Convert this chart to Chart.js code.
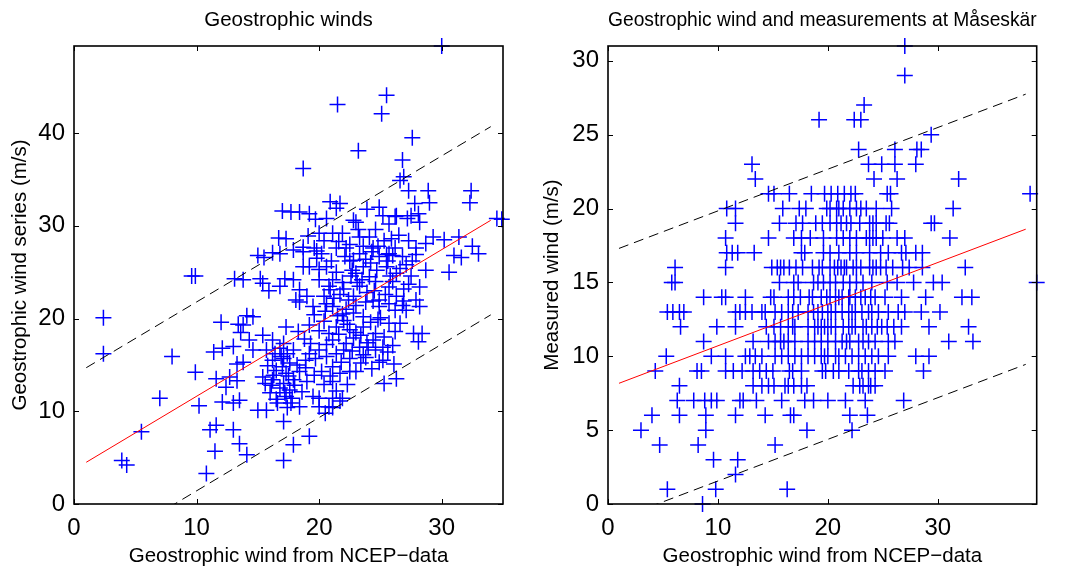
<!DOCTYPE html>
<html><head><meta charset="utf-8">
<script src="https://cdn.jsdelivr.net/npm/chart.js@4/dist/chart.umd.min.js"></script>
<style>
html,body{margin:0;padding:0;background:#fff;width:1075px;height:569px;overflow:hidden}
canvas{position:absolute;top:0}
#c1{left:0}
#c2{left:537px}
</style></head><body>
<canvas id="c1" width="537" height="569"></canvas>
<canvas id="c2" width="538" height="569"></canvas>
<script>
const FONT = "'Liberation Sans', Arial, Helvetica, sans-serif";

// ---------- Left panel: Geostrophic winds ----------
const leftTitle = 'Geostrophic winds';
const leftXLabel = 'Geostrophic wind from NCEP\u2212data';
const leftYLabel = 'Geostrophic wind series (m/s)';
const leftXTicks = [0, 10, 20, 30];
const leftYTicks = [0, 10, 20, 30, 40];
const leftX = [
30.0,25.5,21.5,25.1,27.6,23.2,18.7,26.8,26.6,26.9,27.3,28.9,32.4,32.3,29.0,27.8,20.9,21.4,17.0,18.4,
19.7,23.9,25.2,26.2,27.2,28.1,22.8,34.9,34.5,20.0,21.9,23.3,16.7,29.3,30.2,31.4,32.5,33.0,31.6,31.0,
30.6,27.9,17.9,18.7,16.2,15.0,19.6,19.8,18.7,21.4,22.1,22.8,25.5,26.0,20.0,13.1,9.6,9.9,15.2,17.2,
2.4,2.4,8.0,7.0,9.9,10.2,5.5,3.9,4.3,12.0,13.4,14.1,11.4,12.1,13.3,13.0,13.6,14.3,11.6,12.7,
13.3,12.4,12.1,13.0,11.1,11.6,13.0,13.5,11.5,14.1,10.8,15.0,17.1,17.1,17.9,19.2,17.7,20.0,20.5,21.1,
19.5,25.3,25.2,27.7,28.1,26.2,26.8,22.5,
21.7,24.9,26.3,27.5,28.2,23.0,25.7,21.1,24.1,25.3,26.5,27.3,28.7,22.2,23.3,24.4,24.9,25.7,26.8,27.9,
22.5,23.6,25.5,27.1,21.4,23.0,24.1,26.3,28.7,21.1,21.9,23.3,24.6,25.7,27.3,21.7,22.8,23.9,24.9,26.3,
27.9,20.9,
21.1,21.9,23.0,23.6,24.9,25.7,27.1,28.2,21.4,22.5,23.6,24.6,25.7,26.6,21.1,22.2,23.3,24.4,25.2,26.0,
21.4,22.5,23.6,24.6,24.9,26.1,28.4,21.1,21.7,23.0,26.3,21.1,21.9,21.1,21.7,
18.4,19.5,20.6,14.6,13.8,17.3,18.3,19.2,20.0,20.8,15.4,16.2,17.1,14.6,15.7,16.8,17.9,19.2,20.0,20.6,
16.2,17.1,17.6,18.9,13.8,16.5,17.3,18.4,15.4,16.2,17.1,17.9,16.8,17.6,17.3,13.5,18.4,15.7,20.8,20.0,
19.7,
17.7,19.2,20.6,17.3,15.5,16.8,18.7,19.8,20.4,19.2,20.6,13.8,15.4,16.8,17.9,18.4,19.0,20.0,20.8,15.9,
18.1,20.4,
16.0,16.5,17.0,16.3,17.5,18.0,15.8,16.9,18.2,17.4,22.0,22.8,23.4,24.2,23.8,22.4,24.5,22.6,23.8,24.7,
22.2,23.1,25.0,24.0,22.8,21.6,20.4,19.6,22.0,23.4,25.4,26.0,26.9,24.3,25.9,20.2,19.0,18.8,20.6,21.5,
20.5,21.2,22.0,22.7,23.5,24.2,24.8,25.6,26.2,23.2,22.3,23.0,23.9,24.8,25.3,26.2,26.9,27.5,25.8,24.4,
21.8,22.7,23.8,24.3,25.6,20.9,22.3,21.4,20.4,19.6,16.4,17.2,16.1,17.8,18.6,15.6,16.6,17.4,18.9,19.3,
21.0,20.2,19.1,22.5,23.6,21.6,24.6,26.6,27.6,28.2
];
const leftY = [
49.4,44.1,43.1,42.1,39.5,38.1,36.2,37.1,34.9,35.3,33.8,33.8,33.8,32.5,32.5,32.4,32.6,31.9,31.6,31.5,
30.7,31.8,31.1,31.0,30.8,31.3,30.6,30.7,30.8,29.2,29.2,28.8,28.7,28.8,28.5,28.8,27.8,27.0,26.6,26.8,
25.0,27.6,27.4,27.7,27.1,26.8,27.6,26.5,25.6,27.6,26.7,26.3,26.9,26.8,25.3,24.3,24.6,24.6,24.3,24.3,
20.1,16.2,15.9,11.4,14.2,10.6,7.8,4.7,4.2,19.6,19.4,20.3,16.4,16.8,15.1,17.0,18.5,17.7,13.5,13.7,
13.3,12.6,11.0,10.9,8.0,8.5,8.0,6.5,5.7,5.3,3.3,10.1,8.9,4.7,6.4,7.3,10.9,10.5,9.8,11.4,
11.6,13.0,15.5,18.4,17.5,20.9,21.4,14.3,
32.4,32.0,31.1,31.1,30.4,30.4,30.2,29.2,28.8,28.4,29.0,28.4,28.1,27.6,27.0,27.6,26.7,27.0,26.7,26.9,
26.2,25.6,25.6,25.8,25.0,24.9,24.5,24.9,25.2,24.2,23.9,23.5,24.0,23.4,23.7,22.6,22.4,22.8,22.0,22.4,
22.0,23.1,
21.3,20.5,21.4,20.2,21.3,21.6,20.9,21.3,19.1,18.8,19.1,18.4,19.5,19.5,17.7,17.3,16.9,17.7,16.9,17.1,
16.2,15.7,16.1,16.6,15.3,15.1,18.4,14.8,14.1,14.3,13.5,13.2,11.4,10.4,11.1,
21.8,21.3,21.6,20.2,19.3,19.1,18.6,19.3,18.7,18.4,18.2,17.7,17.3,16.6,16.6,16.8,16.6,16.2,16.6,15.9,
15.5,15.7,15.2,15.5,15.3,14.4,14.1,14.3,13.7,13.4,13.0,13.4,12.5,12.3,11.6,11.2,10.5,10.1,10.5,11.4,
15.7,
31.5,31.3,30.8,28.6,26.6,27.0,27.2,27.3,28.4,25.6,25.6,24.2,23.8,23.5,24.2,23.1,22.4,24.2,23.5,23.0,
22.0,22.4,
12.0,11.3,14.8,13.9,13.8,12.8,14.9,15.9,15.0,16.2,19.8,20.6,18.2,19.6,21.8,22.0,23.0,24.6,26.4,25.2,
21.0,23.9,20.1,16.9,17.9,18.3,19.7,20.4,16.6,15.2,22.6,24.0,23.2,27.2,28.6,14.3,13.2,17.8,17.2,20.3,
20.8,22.2,23.2,25.2,24.2,26.0,27.8,26.2,27.6,29.6,19.4,18.5,17.4,19.9,18.0,18.6,21.9,24.6,24.6,21.9,
15.3,16.5,15.8,14.6,16.4,13.8,12.9,12.2,12.9,13.9,16.2,12.0,12.8,11.4,12.1,13.0,10.9,10.4,14.7,17.3,
26.2,27.0,28.9,28.0,27.8,28.3,29.6,25.4,26.2,23.4
];
const leftFitX = [1, 34];
const leftFitY = [4.5, 30.6];
const leftUpperY = [14.7, 40.7];
const leftLowerY = [-5.7, 20.4];

// ---------- Right panel: measurements at Måseskär ----------
const rightTitle = 'Geostrophic wind and measurements at M\u00e5sesk\u00e4r';
const rightXLabel = 'Geostrophic wind from NCEP\u2212data';
const rightYLabel = 'Measured wind (m/s)';
const rightXTicks = [0, 10, 20, 30];
const rightYTicks = [0, 5, 10, 15, 20, 25, 30];
const rightX = [
8.6,
5.4,9.8,16.3,
11.6,
9.6,11.8,
4.7,8.2,15.2,
3.0,8.9,18.1,22.2,
4.0,6.5,8.9,11.6,14.3,16.6,16.9,22.0,23.6,
6.3,7.8,8.8,9.4,9.9,12.0,12.3,13.5,15.8,17.9,18.7,20.0,21.6,23.4,26.9,
6.5,13.2,14.6,15.1,16.1,16.4,16.9,17.6,22.3,22.9,23.2,23.7,24.3,
4.3,8.1,8.5,10.7,11.4,12.2,13.2,13.8,14.4,16.5,16.8,19.5,19.8,21.0,21.9,22.8,23.7,24.3,25.2,28.7,
5.3,9.4,10.7,12.5,12.9,13.4,14.0,15.8,16.4,17.0,17.6,18.8,19.4,19.7,20.0,20.7,21.6,22.2,23.4,24.0,24.6,25.5,28.0,29.2,
8.7,13.2,14.6,15.2,15.7,16.4,17.0,18.2,19.4,20.0,20.7,21.3,22.0,22.8,23.7,24.3,25.5,31.0,33.2,
6.6,9.9,11.6,15.1,15.7,16.4,17.0,18.2,18.8,19.1,19.4,20.0,20.7,21.4,21.9,22.5,23.2,23.5,24.0,24.9,26.0,26.7,29.2,32.8,
5.4,5.9,6.5,6.9,11.6,12.0,12.5,13.1,14.0,14.3,15.2,15.8,16.4,17.3,18.2,19.1,20.0,20.7,21.3,21.9,22.5,23.1,23.7,24.6,25.5,26.4,27.0,28.5,30.2,
8.7,10.35,10.7,12.5,14.8,15.1,16.4,16.9,18.3,18.6,19.9,20.7,21.3,21.9,22.5,23.4,24.3,25.2,26.7,28.9,32.2,33.1,
5.8,6.1,15.6,16.9,18.7,19.1,20.2,21.4,22.0,22.6,25.4,26.3,27.8,29.6,30.4,39.0,
6.1,10.7,14.9,15.4,15.7,16.0,17.1,17.7,18.6,20.2,20.6,20.9,21.2,21.7,22.3,22.6,23.0,23.8,24.1,24.4,24.8,25.3,25.9,26.8,27.4,28.6,32.5,
10.8,11.3,11.8,13.3,17.6,17.9,19.6,20.2,22.0,22.6,23.8,26.7,27.1,28.0,28.6,
10.7,14.6,16.9,18.4,19.6,20.8,21.4,22.0,22.6,23.5,23.8,24.1,24.4,26.3,27.0,31.1,
11.6,15.6,17.1,17.7,18.9,20.2,20.8,21.2,21.7,22.1,23.8,24.1,24.4,25.3,25.6,29.4,29.7,
10.8,11.6,15.9,17.4,18.0,19.9,20.2,20.8,21.4,22.0,22.6,23.5,24.4,25.8,31.4,
14.6,15.1,16.5,18.5,19.7,20.3,20.9,21.5,22.1,22.5,25.4,25.7,38.4,
13.4,24.2,26.3,31.9,
13.1,23.7,24.9,26.1,28.0,
22.8,26.1,28.1,28.5,
29.4,
19.2,22.4,23.0,
23.3,
27.0,
27.0,
15.2,18.2,21.0,22.8,
16.0,18.8,21.7,23.2,26.1,
14.4,16.8,19.7,20.3,22.2,24.5,25.4,
16.8,18.7,19.5,20.3,22.2,24.0,
17.5,19.4,20.2,21.0,22.0,23.0,23.9,
17.3,19.6,20.7,23.2,24.0,
16.5,19.2,19.5,21.5,
15.0,17.6,20.5,23.1,
14.0,23.9,18.1,
21.0,24.8,25.5,
17.6,25.0,
19.5,22.9,
21.0,23.0
];
const rightY = [
0,
1,1,1,
2,
3,3,
4,4,4,
5,5,5,5,
6,6,6,6,6,6,6,6,6,
7,7,7,7,7,7,7,7,7,7,7,7,7,7,7,
8,8,8,8,8,8,8,8,8,8,8,8,8,
9,9,9,9,9,9,9,9,9,9,9,9,9,9,9,9,9,9,9,9,
10,10,10,10,10,10,10,10,10,10,10,10,10,10,10,10,10,10,10,10,10,10,10,10,
11,11,11,11,11,11,11,11,11,11,11,11,11,11,11,11,11,11,11,
12,12,12,12,12,12,12,12,12,12,12,12,12,12,12,12,12,12,12,12,12,12,12,12,
13,13,13,13,13,13,13,13,13,13,13,13,13,13,13,13,13,13,13,13,13,13,13,13,13,13,13,13,13,
14,14,14,14,14,14,14,14,14,14,14,14,14,14,14,14,14,14,14,14,14,14,
15,15,15,15,15,15,15,15,15,15,15,15,15,15,15,15,
16,16,16,16,16,16,16,16,16,16,16,16,16,16,16,16,16,16,16,16,16,16,16,16,16,16,16,
17,17,17,17,17,17,17,17,17,17,17,17,17,17,17,
18,18,18,18,18,18,18,18,18,18,18,18,18,18,18,18,
19,19,19,19,19,19,19,19,19,19,19,19,19,19,19,19,19,
20,20,20,20,20,20,20,20,20,20,20,20,20,20,20,
21,21,21,21,21,21,21,21,21,21,21,21,21,
22,22,22,22,
23,23,23,23,23,
24,24,24,24,
25,
26,26,26,
27,
29,
31,
10,10,10,10,
11,11,11,11,11,
12,12,12,12,12,12,12,
13,13,13,13,13,13,
14,14,14,14,14,14,14,
15,15,15,15,15,
16,16,16,16,
9,9,9,9,
8,8,8,
17,17,17,
18,18,
19,19,
20,20
];
const rightFitX = [1, 38];
const rightFitY = [8.17, 18.6];
const rightUpperY = [17.3, 27.74];
const rightLowerY = [-0.98, 9.45];

// ---------- helpers ----------
function pts(xs, ys) { return xs.map((x, i) => ({ x: x, y: ys[i] })); }

const framePlugin = {
  id: 'frame',
  afterDraw(chart) {
    const { ctx, chartArea: a, scales } = chart;
    ctx.save();
    ctx.strokeStyle = '#000';
    ctx.lineWidth = 1.6;
    ctx.strokeRect(a.left, a.top, a.right - a.left, a.bottom - a.top);
    ctx.lineWidth = 1;
    const L = 5;
    ctx.beginPath();
    scales.x.ticks.forEach(t => {
      const p = Math.round(scales.x.getPixelForValue(t.value)) + 0.5;
      ctx.moveTo(p, a.bottom); ctx.lineTo(p, a.bottom - L);
      ctx.moveTo(p, a.top); ctx.lineTo(p, a.top + L);
    });
    scales.y.ticks.forEach(t => {
      const p = Math.round(scales.y.getPixelForValue(t.value)) + 0.5;
      ctx.moveTo(a.left, p); ctx.lineTo(a.left + L, p);
      ctx.moveTo(a.right, p); ctx.lineTo(a.right - L, p);
    });
    ctx.stroke();
    ctx.restore();
  }
};

function makeChart(id, cfg) {
  const lineDs = (ys, color, dash) => ({
    data: pts(cfg.fitX, ys), showLine: true, borderColor: color, borderWidth: 1,
    borderDash: dash, pointRadius: 0, fill: false, order: 0
  });
  return new Chart(document.getElementById(id), {
    type: 'scatter',
    data: {
      datasets: [
        lineDs(cfg.fitY, '#ff0000', []),
        lineDs(cfg.upperY, '#000000', [10, 6]),
        lineDs(cfg.lowerY, '#000000', [10, 6]),
        {
          data: pts(cfg.xs, cfg.ys), pointStyle: 'cross', pointRadius: 8,
          borderColor: '#0000ff', borderWidth: 1.5, clip: false, order: 1
        }
      ]
    },
    options: {
      responsive: false, animation: false, events: [], devicePixelRatio: 1,
      layout: { padding: { left: 0, right: cfg.padRight, top: 0, bottom: 0 } },
      plugins: {
        legend: { display: false }, tooltip: { enabled: false },
        title: {
          display: true, text: cfg.title, fullSize: false, color: '#000',
          font: { family: FONT, size: 20.5, weight: 'normal' },
          padding: { top: 8, bottom: 13.4 }
        }
      },
      scales: {
        x: {
          type: 'linear', min: 0, max: cfg.xMax,
          afterBuildTicks: s => { s.ticks = cfg.xTicks.map(v => ({ value: v })); },
          afterFit: s => { s.height = 65; },
          grid: { display: false, drawTicks: false }, border: { display: false },
          ticks: { font: { family: FONT, size: 24 }, color: '#000', padding: 10, maxRotation: 0, autoSkip: false },
          title: { display: true, text: cfg.xLabel, color: '#000', font: { family: FONT, size: 20.5 }, padding: { top: 0, bottom: 0 } }
        },
        y: {
          type: 'linear', min: 0, max: cfg.yMax,
          afterBuildTicks: s => { s.ticks = cfg.yTicks.map(v => ({ value: v })); },
          afterFit: s => { s.width = cfg.yWidth; },
          grid: { display: false, drawTicks: false }, border: { display: false },
          ticks: { font: { family: FONT, size: 24 }, color: '#000', padding: 9, autoSkip: false },
          title: { display: true, text: cfg.yLabel, color: '#000', font: { family: FONT, size: 20.5 }, padding: { top: cfg.yTitlePad, bottom: 0 } }
        }
      }
    },
    plugins: [framePlugin]
  });
}

makeChart('c1', {
  title: leftTitle, xLabel: leftXLabel, yLabel: leftYLabel,
  xs: leftX, ys: leftY, fitX: leftFitX, fitY: leftFitY, upperY: leftUpperY, lowerY: leftLowerY,
  xTicks: leftXTicks, yTicks: leftYTicks, xMax: 35, yMax: 49.4,
  yWidth: 74, padRight: 34, yTitlePad: 8
});
makeChart('c2', {
  title: rightTitle, xLabel: rightXLabel, yLabel: rightYLabel,
  xs: rightX, ys: rightY, fitX: rightFitX, fitY: rightFitY, upperY: rightUpperY, lowerY: rightLowerY,
  xTicks: rightXTicks, yTicks: rightYTicks, xMax: 39, yMax: 31,
  yWidth: 71, padRight: 38.3, yTitlePad: 3
});
</script>
</body></html>
